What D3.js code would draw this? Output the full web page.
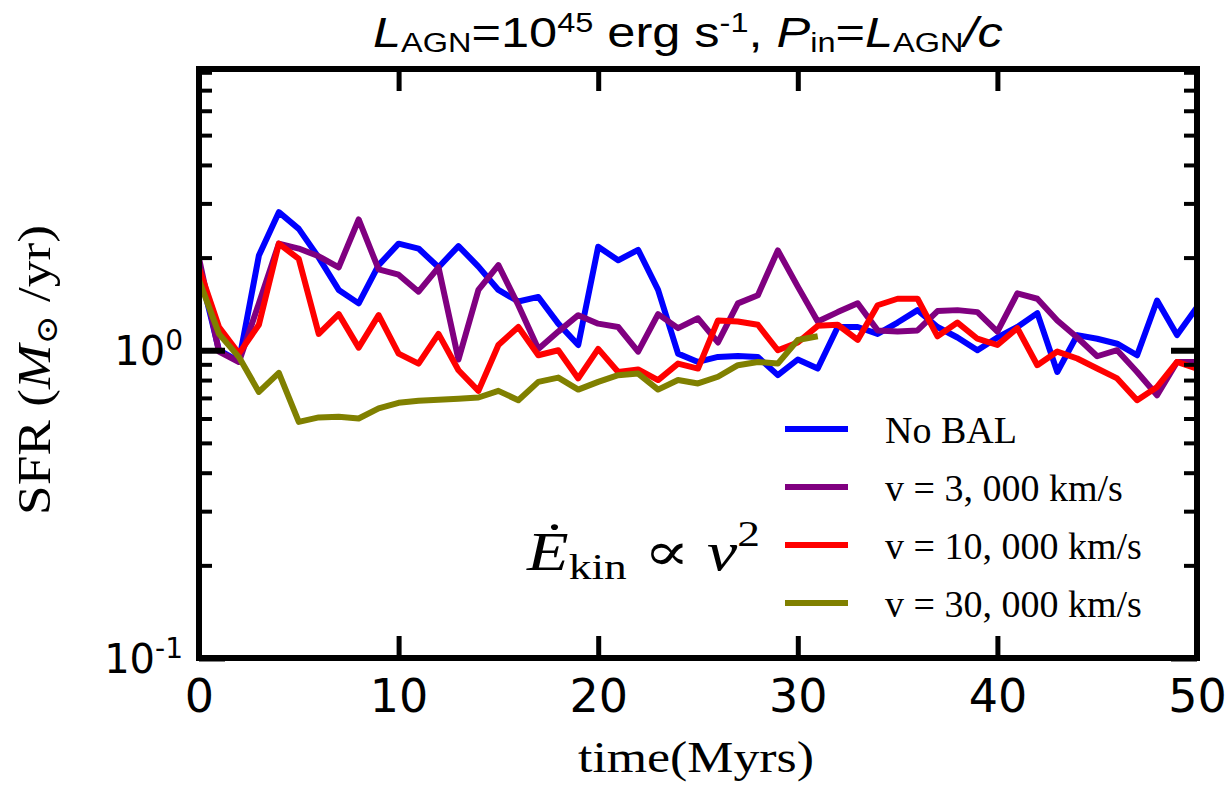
<!DOCTYPE html>
<html lang="en">
<head>
    <meta charset="utf-8">
    <script src="https://cdn.jsdelivr.net/npm/d3@7/dist/d3.min.js"></script>
    <style>
        body { margin: 0; background: #fff; }
        .serif { font-family: "Liberation Serif", "DejaVu Serif", serif; }
        .sans { font-family: "Liberation Sans", Arial, sans-serif; }
        .dv { font-family: "DejaVu Sans", sans-serif; }
    </style>
</head>
<body>
    <svg width="1226" height="785"></svg>
    <script>
            // times in Myr
            var time = [0, 1, 2, 3, 4, 5, 6, 7, 8, 9, 10, 11, 12, 13, 14, 15, 16, 17, 18, 19, 20,
                21, 22, 23, 24, 25, 26, 27, 28, 29, 30, 31, 32, 33, 34, 35, 36, 37, 38, 39, 40,
                41, 42, 43, 44, 45, 46, 47, 48, 49, 50];

            // SFR (Msun/yr) per run
            var noBal = [1.85, 1.0, 0.92, 2.03, 2.81, 2.48, 2.0, 1.57, 1.42, 1.89, 2.22,
                2.14, 1.86, 2.18, 1.87, 1.57, 1.44, 1.49, 1.22, 1.04, 2.17,
                1.96, 2.12, 1.57, 0.975, 0.916, 0.951, 0.958, 0.951, 0.83, 0.933,
                0.872, 1.19, 1.19, 1.13, 1.23, 1.35, 1.19, 1.10, 1.0, 1.10,
                1.19, 1.32, 0.85, 1.12, 1.09, 1.05, 0.963, 1.45, 1.12, 1.38];
            var v3000 = [1.99, 0.99, 0.916, 1.42, 2.22, 2.14, 2.02, 1.86, 2.66, 1.83, 1.76,
                1.55, 1.86, 0.933, 1.57, 1.89, 1.40, 1.01, 1.15, 1.30, 1.22,
                1.19, 0.99, 1.31, 1.18, 1.27, 1.06, 1.42, 1.51, 2.11, 1.61,
                1.24, 1.33, 1.42, 1.16, 1.15, 1.16, 1.34, 1.35, 1.33, 1.15,
                1.53, 1.47, 1.25, 1.10, 0.956, 1.0, 0.85, 0.714, 0.916, 0.916];
            var v10000 = [1.85, 1.19, 0.975, 1.21, 2.22, 1.98, 1.13, 1.31, 1.02, 1.30, 0.975,
                0.905, 1.13, 0.861, 0.738, 1.04, 1.19, 0.963, 1.0, 0.81, 1.01,
                0.85, 0.866, 0.80, 0.905, 0.872, 1.25, 1.24, 1.21, 1.0, 1.06,
                1.20, 1.21, 1.08, 1.40, 1.47, 1.47, 1.11, 1.23, 1.09, 1.04,
                1.18, 0.894, 0.99, 0.94, 0.872, 0.81, 0.688, 0.76, 0.916, 0.872];
            var v30000 = [1.69, 1.13, 0.95, 0.732, 0.844, 0.585, 0.605, 0.608, 0.60, 0.647, 0.675,
                0.685, 0.69, 0.695, 0.702, 0.738, 0.688, 0.789, 0.815, 0.745, 0.789,
                0.83, 0.84, 0.745, 0.80, 0.78, 0.82, 0.894, 0.916, 0.905, 1.08, 1.11];

            var labels = ["No BAL", "v = 3, 000 km/s", "v = 10, 000 km/s", "v = 30, 000 km/s"];
            var colors = ["#0000ff", "#800080", "#ff0000", "#808000"];
            var xTicks = [0, 10, 20, 30, 40, 50];
            var yMajor = [0.1, 1];
            var yMinor = [0.2, 0.3, 0.4, 0.5, 0.6, 0.7, 0.8, 0.9, 2, 3, 4, 5, 6, 7, 8];

            var series = [noBal, v3000, v10000, v30000];

            var svg = d3.select("svg");
            // plot box (note: "top" is taken by window.top)
            var pl = 199, pr = 1197, pt = 69, pb = 658;

            var x = d3.scaleLinear().domain([0, 50]).range([pl, pr]);
            var y = d3.scaleLog().domain([0.1, 8.2]).range([pb, pt]);

            svg.append("clipPath").attr("id", "clip")
                .append("rect")
                .attr("x", pl).attr("y", pt)
                .attr("width", pr - pl).attr("height", pb - pt);

            // lines
            var line = d3.line()
                .x(function(d) { return x(d[0]); })
                .y(function(d) { return y(d[1]); });

            var plot = svg.append("g").attr("clip-path", "url(#clip)");
            series.forEach(function(s, i) {
                var pts = s.map(function(v, j) { return [time[j], v]; });
                plot.append("path")
                    .attr("d", line(pts))
                    .attr("fill", "none")
                    .attr("stroke", colors[i])
                    .attr("stroke-width", 6)
                    .attr("stroke-linejoin", "round");
            });

            // axes
            function styleAxis(g, w) {
                g.select(".domain").remove();
                g.selectAll(".tick line").attr("stroke", "#000").attr("stroke-width", w);
            }

            var xb = svg.append("g").attr("transform", "translate(0," + pb + ")")
                .call(d3.axisBottom(x).tickValues(xTicks).tickSizeInner(-22).tickSizeOuter(0));
            styleAxis(xb, 5);
            xb.selectAll("text")
                .attr("class", "dv")
                .attr("font-size", 46)
                .attr("fill", "#000")
                .attr("dy", null)
                .attr("y", 54);

            var xt = svg.append("g").attr("transform", "translate(0," + pt + ")")
                .call(d3.axisTop(x).tickValues(xTicks).tickSizeInner(-22).tickSizeOuter(0).tickFormat(""));
            styleAxis(xt, 5);

            [[d3.axisLeft, pl], [d3.axisRight, pr]].forEach(function(a) {
                var gmin = svg.append("g").attr("transform", "translate(" + a[1] + ",0)")
                    .call(a[0](y).tickValues(yMinor).tickSize(-13).tickFormat(""));
                styleAxis(gmin, 4);
                var gmaj = svg.append("g").attr("transform", "translate(" + a[1] + ",0)")
                    .call(a[0](y).tickValues(yMajor).tickSize(-26).tickFormat(""));
                styleAxis(gmaj, 6);
            });

            // y tick labels 10^n
            yMajor.forEach(function(v) {
                var t = svg.append("text")
                    .attr("class", "dv")
                    .attr("x", 183)
                    .attr("y", y(v) + 15)
                    .attr("text-anchor", "end")
                    .attr("font-size", 40);
                t.append("tspan").text("10");
                t.append("tspan").attr("dy", -15).attr("font-size", 28).text(Math.round(Math.log10(v)));
            });

            // frame
            svg.append("rect")
                .attr("x", pl).attr("y", pt)
                .attr("width", pr - pl).attr("height", pb - pt)
                .attr("fill", "none").attr("stroke", "#000").attr("stroke-width", 6);

            // title
            var title = svg.append("text")
                .attr("class", "sans")
                .attr("x", 0).attr("y", 47)
                .attr("font-size", 42);
            function part(txt, opt) {
                opt = opt || {};
                var ts = title.append("tspan").text(txt);
                if (opt.it) ts.attr("font-style", "italic");
                if (opt.fs) ts.attr("font-size", opt.fs);
                if (opt.dy) ts.attr("dy", opt.dy);
                return ts;
            }
            part("L", {it: 1});
            part("AGN", {fs: 27, dy: 5});
            part("=10", {dy: -5});
            part("45", {fs: 27, dy: -15});
            part(" erg s", {dy: 15});
            part("-1", {fs: 27, dy: -15});
            part(", ", {dy: 15});
            part("P", {it: 1});
            part("in", {fs: 27, dy: 5});
            part("=", {dy: -5});
            part("L", {it: 1});
            part("AGN", {fs: 27, dy: 5});
            part("/c", {it: 1, dy: -5});
            var tw = title.node().getComputedTextLength();
            title.attr("transform", "translate(373,0) scale(" + (630 / tw) + ",1)");

            // axis labels
            svg.append("text")
                .attr("class", "serif")
                .attr("x", 696).attr("y", 772)
                .attr("text-anchor", "middle")
                .attr("font-size", 44)
                .attr("textLength", 236)
                .attr("lengthAdjust", "spacingAndGlyphs")
                .text("time(Myrs)");

            var yl = svg.append("text")
                .attr("class", "serif")
                .attr("x", 0).attr("y", 0)
                .attr("font-size", 46);
            yl.append("tspan").text("SFR (");
            yl.append("tspan").attr("font-style", "italic").text("M");
            yl.append("tspan").attr("font-size", 30).attr("dy", 7).text("\u2299");
            yl.append("tspan").attr("dy", -7).text(" /yr)");
            var yw = yl.node().getComputedTextLength();
            yl.attr("transform", "translate(50,515) rotate(-90) scale(" + (290 / yw) + ",1)");

            // legend
            labels.forEach(function(lab, i) {
                var ly = 429 + i * 58;
                svg.append("line")
                    .attr("x1", 785).attr("x2", 848)
                    .attr("y1", ly).attr("y2", ly)
                    .attr("stroke", colors[i]).attr("stroke-width", 6);
                svg.append("text")
                    .attr("class", "serif")
                    .attr("x", 885).attr("y", ly + 14)
                    .attr("font-size", 38)
                    .text(lab);
            });

            // annotation
            var an = svg.append("text")
                .attr("class", "serif")
                .attr("x", 0).attr("y", 570)
                .attr("font-size", 54);
            an.append("tspan").attr("font-style", "italic").text("E\u0307");
            an.append("tspan").attr("font-size", 36).attr("dy", 9).text("kin");
            an.append("tspan").attr("dy", -9).text(" \u221D ");
            an.append("tspan").attr("font-style", "italic").text("v");
            an.append("tspan").attr("font-size", 36).attr("dy", -24).text("2");
            var aw = an.node().getComputedTextLength();
            an.attr("transform", "translate(527,0) scale(" + (233 / aw) + ",1)");
    </script>
</body>
</html>
